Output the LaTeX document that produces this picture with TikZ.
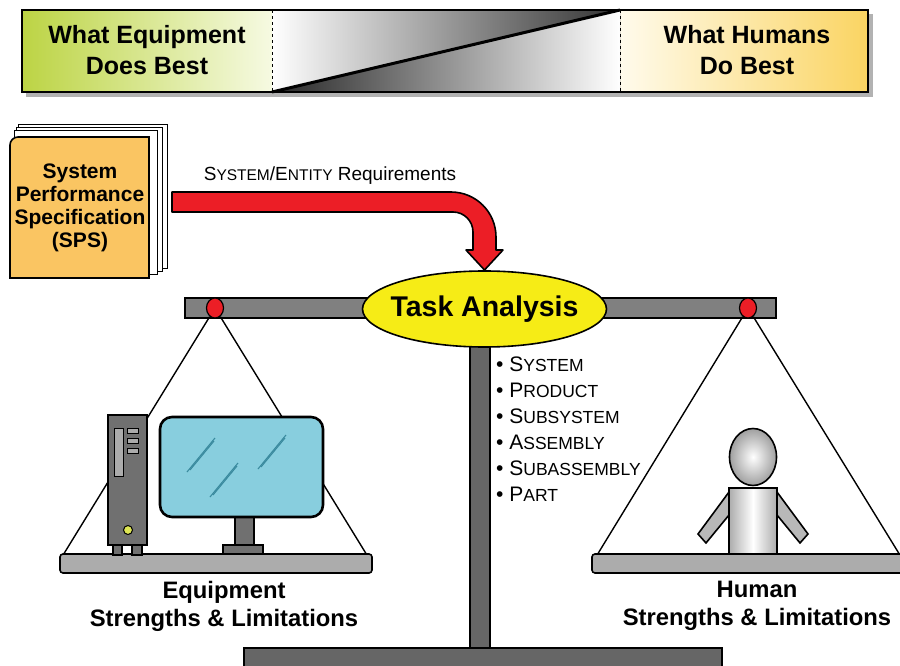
\documentclass[tikz,border=0pt]{standalone}
\usepackage{fontspec}
\setmainfont{Liberation Sans}
\usetikzlibrary{shapes.geometric}

\definecolor{eqgreen}{RGB}{188,212,68}
\definecolor{eqpale}{RGB}{246,250,226}
\definecolor{hupale}{RGB}{255,251,236}
\definecolor{huorange}{RGB}{250,212,98}
\definecolor{bookorange}{RGB}{250,197,98}
\definecolor{arrowred}{RGB}{236,30,38}
\definecolor{taskyellow}{RGB}{246,236,22}
\definecolor{screenblue}{RGB}{136,206,222}
\definecolor{glare}{RGB}{58,138,158}
\definecolor{beamgray}{RGB}{128,128,128}
\definecolor{postgray}{RGB}{102,102,102}
\definecolor{pangray}{RGB}{172,172,172}
\definecolor{towergray}{RGB}{112,112,112}
\definecolor{ledgreen}{RGB}{222,230,84}

% small caps faked with two sizes
\newcommand{\fakesc}[2]{#1{\fontsize{15.5}{15.5}\selectfont #2}}
\newcommand{\listsc}[2]{#1{\fontsize{17.5}{17.5}\selectfont #2}}

\tikzset{
  outline/.style={draw=black, line width=1.6pt},
  bigbold/.style={font=\fontsize{25}{31}\selectfont\bfseries, align=center},
  panbox/.style={outline, fill=pangray, rounded corners=3, minimum width=312, minimum height=19, inner sep=0},
  pivot/.style={outline, line width=1.2pt, fill=arrowred, ellipse, minimum width=17, minimum height=20, inner sep=0},
  scalelabel/.style={font=\fontsize{23.8}{28}\selectfont\bfseries, align=center},
  string/.style={line width=1.4pt}
}

\begin{document}
\begin{tikzpicture}[x=1pt, y=-1pt]
\useasboundingbox (0,0) rectangle (900,666);

% top bar with shadow
\fill[black!30] (26,14) rectangle (873,97);
\fill[left color=eqgreen, right color=eqpale] (22,10) rectangle (272,92);
\fill[left color=hupale, right color=huorange] (620,10) rectangle (868,92);
\fill[left color=white, right color=black!80] (272,10) -- (620,10) -- (272,92) -- cycle;
\fill[left color=black!85, right color=white] (272,92) -- (620,10) -- (620,92) -- cycle;
\draw[dashed, line width=1pt] (272,10) -- (272,92);
\draw[dashed, line width=1pt] (620,10) -- (620,92);
\draw[line width=3pt] (272,92) -- (620,10);
\draw[line width=2pt] (22,10) rectangle (868,92);
\node[bigbold] (eqbest) at (147,50) {What Equipment\\Does Best};
\node[bigbold] (hubest) at (747,50) {What Humans\\Do Best};

% spec book
\draw[line width=1pt, fill=white] (18,125) rectangle (167,268);
\draw[line width=1pt, fill=white] (16,128) rectangle (162,271);
\draw[line width=1pt, fill=white] (14,131) rectangle (157,274);
\draw[outline, fill=bookorange] (10,278) -- (10,145) arc(180:270:8) -- (149,137) -- (149,278) -- cycle;
\node[font=\fontsize{21}{23}\selectfont\bfseries, align=center] (sps) at (80,208)
  {System\\Performance\\Specification\\(SPS)};

% requirements arrow
\node[font=\fontsize{19}{19}\selectfont] (req) at (330,176) {\fakesc{S}{YSTEM}/\fakesc{E}{NTITY} Requirements};
\draw[outline, line join=round, fill=arrowred] (172,192) -- (451,192) arc(-90:0:45) -- (496,250)
  -- (503,250) -- (484.5,270) -- (466,250) -- (473,250) -- (473,232) arc(0:-90:20) -- (172,212) -- cycle;

% scale: post, base and beam
\draw[outline, fill=postgray] (470,340) rectangle (490,650);
\draw[outline, fill=postgray] (244,648) rectangle (722,672);
\draw[outline, fill=beamgray] (185,298) rectangle (776,318);
\node[outline, ellipse, fill=taskyellow, minimum width=244, minimum height=76, inner xsep=-40pt, inner ysep=0,
  font=\fontsize{28.5}{28.5}\selectfont\bfseries] (task) at (484.5,309) {Task Analysis};
\node[pivot] (pivotL) at (215,308) {};
\node[pivot] (pivotR) at (748,308) {};

% pans and strings
\node[panbox] (panL) at (216,563.5) {};
\node[panbox] (panR) at (748,563.5) {};
\draw[string] (pivotL) -- ([xshift=5]panL.north west);
\draw[string] (pivotL) -- ([xshift=-7]panL.north east);
\draw[string] (pivotR) -- ([xshift=7]panR.north west);
\draw[string] (pivotR) -- ([xshift=-6]panR.north east);

% computer tower
\draw[outline, fill=towergray] (113,545) rectangle (122,555);
\draw[outline, fill=towergray] (132,545) rectangle (142,555);
\draw[outline, fill=towergray] (108,415) rectangle (147,545);
\draw[line width=1pt, fill=pangray] (114,428) rectangle (123,476);
\foreach \y in {428,438,448}
  \draw[line width=1pt, fill=pangray] (127,\y) rectangle (138,{\y+5});
\draw[line width=1pt, fill=ledgreen] (128,530) circle (4.5);

% monitor
\draw[outline, fill=towergray] (235,515) rectangle (254,546);
\draw[outline, fill=towergray] (223,545) rectangle (263,554);
\draw[line width=2.6pt, fill=screenblue, rounded corners=12] (160,417) rectangle (323,517);
\foreach \x/\y in {187/472, 210/497, 258/469} {
  \draw[glare, line width=1.1pt] (\x,\y) -- ++(28,-34);
  \draw[glare, line width=1.1pt] ({\x+3},{\y-2}) -- ++(24,-29);
}

% human
\draw[outline, fill=pangray!85] (729,492) -- (698,534) -- (706,543) -- (729,515) -- cycle;
\draw[outline, fill=pangray!85] (777,492) -- (808,534) -- (800,543) -- (777,515) -- cycle;
\draw[outline, left color=gray!65, right color=gray!65, middle color=white] (729,488) rectangle (777,554);
\draw[outline, inner color=white, outer color=gray!75] (753,457) ellipse (23.5 and 28.5);

% breakdown levels
\node[font=\fontsize{21}{26}\selectfont, align=left, anchor=north west, inner sep=0] (levels) at (496,357)
  {\textbullet\ \listsc{S}{YSTEM}\\
   \textbullet\ \listsc{P}{RODUCT}\\
   \textbullet\ \listsc{S}{UBSYSTEM}\\
   \textbullet\ \listsc{A}{SSEMBLY}\\
   \textbullet\ \listsc{S}{UBASSEMBLY}\\
   \textbullet\ \listsc{P}{ART}};

% pan labels
\node[scalelabel] (eqlabel) at (224,606) {Equipment\\Strengths \& Limitations};
\node[scalelabel] (hulabel) at (757,606) {Human\\Strengths \& Limitations};

\end{tikzpicture}
\end{document}
